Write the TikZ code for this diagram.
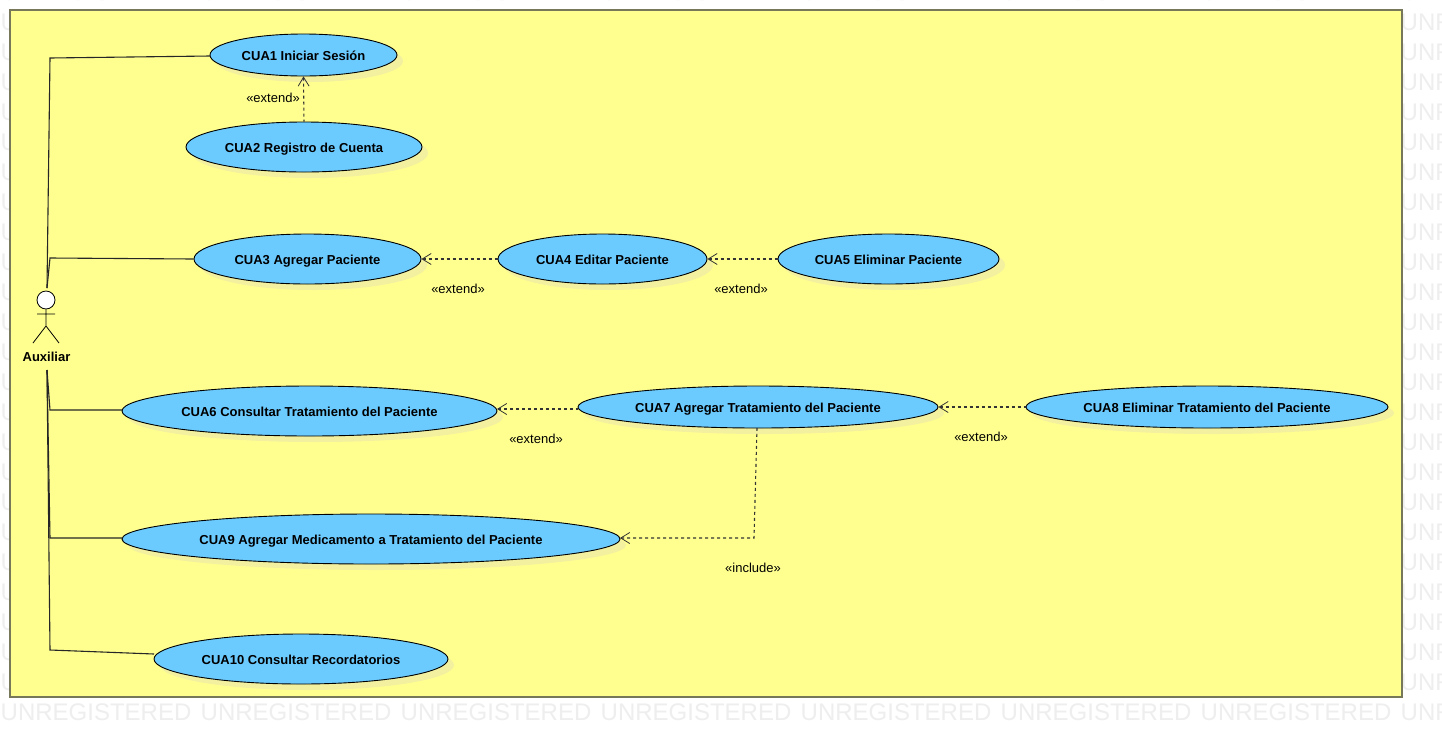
\documentclass[tikz,border=0pt]{standalone}
\usepackage{fontspec}
\setmainfont{Liberation Sans}
\usetikzlibrary{arrows.meta,shapes.geometric,shadows}
\definecolor{marcofill}{HTML}{FFFF90}
\definecolor{marcoline}{HTML}{77775A}
\definecolor{casofill}{HTML}{6BCBFF}
\definecolor{casoshadow}{HTML}{F3F09F}
\definecolor{marcaagua}{HTML}{EEEEEE}
\tikzset{
  usecase/.style={ellipse,draw=black,line width=0.9pt,fill=casofill,inner sep=0pt,
    text height=10.6pt,text depth=0pt,
    font=\fontsize{13}{15}\selectfont\bfseries,
    drop shadow={shadow xshift=6pt,shadow yshift=-6pt,fill=casoshadow,opacity=1}},
  assoc/.style={line width=1.1pt,black!85},
  depend/.style={line width=1.1pt,black!80,dash pattern=on 3pt off 3pt,
    {Straight Barb[length=9pt,width=11pt,line width=0.8pt]}-},
  stereo/.style={font=\fontsize{13}{15}\selectfont},
  marca/.style={font=\fontsize{24}{26}\selectfont,text=marcaagua,anchor=west,inner sep=0pt}
}
\begin{document}
\begin{tikzpicture}[x=1pt,y=-1pt]
  \clip (0,0) rectangle (1442,737);
  \fill[white] (0,0) rectangle (1442,737);
  \foreach \r in {-8,22,...,712}
    \foreach \c in {0.5,200.5,...,1400.5}
      \node[marca] (wm\r x\c) at (\c,\r) {UNREGISTERED};
  \draw[marcoline,line width=1.5pt,fill=marcofill] (10,10) rectangle (1402,697);

  \node[usecase,minimum width=187,minimum height=42] (cua1) at (303.5,55) {CUA1 Iniciar Sesión};
  \node[usecase,minimum width=236,minimum height=50] (cua2) at (304,147) {CUA2 Registro de Cuenta};
  \node[usecase,minimum width=227,minimum height=50] (cua3) at (307.5,259) {CUA3 Agregar Paciente};
  \node[usecase,minimum width=209,minimum height=50] (cua4) at (602.5,259) {CUA4 Editar Paciente};
  \node[usecase,minimum width=221,minimum height=50] (cua5) at (888.5,259) {CUA5 Eliminar Paciente};
  \node[usecase,minimum width=375,minimum height=50] (cua6) at (309.5,411) {CUA6 Consultar Tratamiento del Paciente};
  \node[usecase,minimum width=360,minimum height=42] (cua7) at (758,407) {CUA7 Agregar Tratamiento del Paciente};
  \node[usecase,minimum width=362,minimum height=42] (cua8) at (1207,407) {CUA8 Eliminar Tratamiento del Paciente};
  \node[usecase,minimum width=498,minimum height=50] (cua9) at (371,539) {CUA9 Agregar Medicamento a Tratamiento del Paciente};
  \node[usecase,minimum width=294,minimum height=50] (cua10) at (301,659) {CUA10 Consultar Recordatorios};

  \node[circle,draw=black,fill=white,line width=0.8pt,minimum size=18,inner sep=0pt] (head) at (46,300) {};
  \node[font=\fontsize{13}{15}\selectfont\bfseries,inner sep=0pt] (auxiliar) at (46.5,357) {Auxiliar};
  \coordinate (armL) at (37,314);
  \coordinate (armR) at (55,314);
  \coordinate (legL) at (33,343);
  \coordinate (legR) at (59,343);
  \coordinate (hip) at (46,326);
  \draw[line width=0.8pt] (head) -- (hip) (armL) -- (armR) (legL) -- (hip) -- (legR);

  \coordinate (top) at (47,288);
  \coordinate (bot) at (47,370);
  \coordinate (in1) at (210,56);
  \coordinate (in10) at (154,654);
  \draw[assoc] (top) -- (50,58) -- (in1);
  \draw[assoc] (top) -- (50,258) -- (cua3.west);
  \draw[assoc] (bot) -- (50,410) -- (122,410);
  \draw[assoc] (bot) -- (50,538) -- (122,538);
  \draw[assoc] (bot) -- (50,650) -- (in10);

  \coordinate (tip6) at (497,409);
  \coordinate (from7) at (578,409);
  \coordinate (tip9) at (620,538);
  \draw[depend] (cua1.south) -- (cua2.north);
  \draw[depend] (cua3.east) -- (cua4.west);
  \draw[depend] (cua4.east) -- (cua5.west);
  \draw[depend] (tip6) -- (from7);
  \draw[depend] (cua7.east) -- (cua8.west);
  \draw[depend] (tip9) -- (754,538) -- (757,428);

  \node[stereo] (ext1) at (273,98) {«extend»};
  \node[stereo] (ext2) at (458,289) {«extend»};
  \node[stereo] (ext3) at (741,289) {«extend»};
  \node[stereo] (ext4) at (536,439) {«extend»};
  \node[stereo] (ext5) at (981,437) {«extend»};
  \node[stereo] (inc1) at (753,568) {«include»};
\end{tikzpicture}
\end{document}
